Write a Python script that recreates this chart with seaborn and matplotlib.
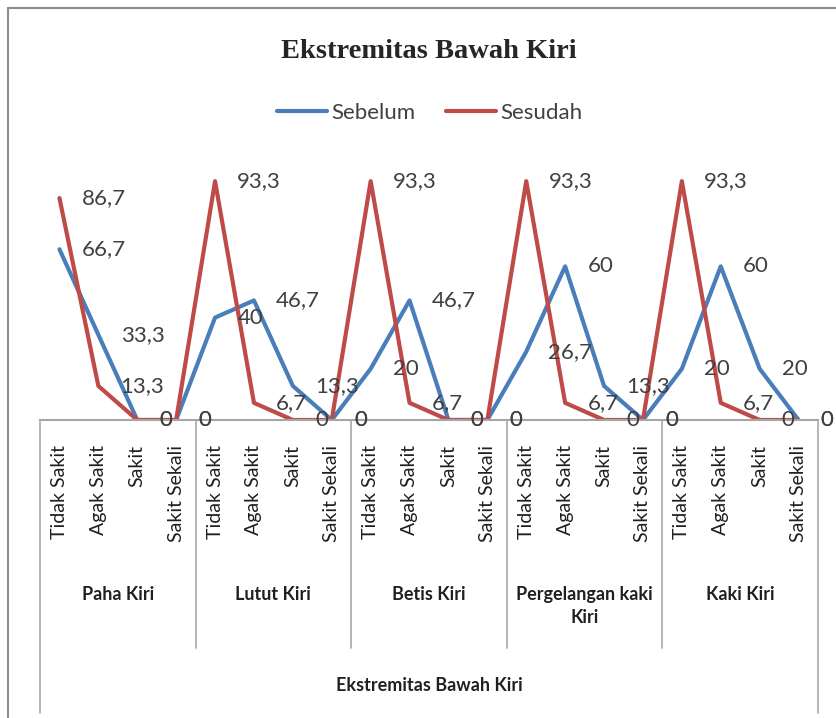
import numpy as np
import pandas as pd
import matplotlib.pyplot as plt
from matplotlib.lines import Line2D
import seaborn as sns

# Data
groups = ["Paha Kiri", "Lutut Kiri", "Betis Kiri", "Pergelangan kaki\nKiri", "Kaki Kiri"]
levels = ["Tidak Sakit", "Agak Sakit", "Sakit", "Sakit Sekali"]
sebelum = [66.7, 33.3, 0, 0,
           40, 46.7, 13.3, 0,
           20, 46.7, 0, 0,
           26.7, 60, 13.3, 0,
           20, 60, 20, 0]
sesudah = [86.7, 13.3, 0, 0,
           93.3, 6.7, 0, 0,
           93.3, 6.7, 0, 0,
           93.3, 6.7, 0, 0,
           93.3, 6.7, 0, 0]
series_names = ["Sebelum", "Sesudah"]
colors = {"Sebelum": "#4A7EBB", "Sesudah": "#BE4B48"}
title = "Ekstremitas Bawah Kiri"
axis_title = "Ekstremitas Bawah Kiri"

sns.set_theme(style="white")
plt.rcParams['font.family'] = ['Lato', 'DejaVu Sans']

categories = [lv for g in groups for lv in levels]
pos = np.arange(len(categories))
df = pd.DataFrame({
    "pos": np.concatenate([pos, pos]),
    "value": sebelum + sesudah,
    "series": [series_names[0]] * len(pos) + [series_names[1]] * len(pos),
})

W, H = 837, 718
fig = plt.figure(figsize=(W / 100, H / 100), dpi=100)
ax = fig.add_axes([40 / W, 1 - 420 / H, (818 - 40) / W, (420 - 164) / H])

sns.lineplot(data=df, x="pos", y="value", hue="series", hue_order=series_names,
             palette=colors, linewidth=3, sort=False, ax=ax)

ax.set_xlim(-0.5, len(categories) - 0.5)
ax.set_ylim(0, 100)
ax.set_xticks([])
ax.set_yticks([])
ax.set_xlabel("")
ax.set_ylabel("")
for side in ["left", "right", "top"]:
    ax.spines[side].set_visible(False)
ax.spines["bottom"].set_color("#A6A6A6")
ax.spines["bottom"].set_linewidth(1.5)

# data labels, to the right of each point
for name, vals in zip(series_names, [sebelum, sesudah]):
    for x, v in zip(pos, vals):
        ax.annotate(f"{v:g}".replace(".", ","), xy=(x, v), xytext=(16, 0),
                    textcoords="offset points", ha="left", va="center",
                    fontsize=16, color="#404040")

# multi-level category axis
xt = ax.get_xaxis_transform()
for x, lab in zip(pos, categories):
    ax.annotate(lab, xy=(x, 0), xycoords=xt, xytext=(0, -18), textcoords="offset points",
                rotation=90, ha="center", va="top", fontsize=14, color="#202020")
for gi, g in enumerate(groups):
    ax.annotate(g, xy=(gi * 4 + 1.5, 0), xycoords=xt, xytext=(0, -119.5),
                textcoords="offset points", ha="center", va="top", fontsize=13,
                fontweight="bold", color="#202020", linespacing=1.45)
ax.annotate(axis_title, xy=(9.5, 0), xycoords=xt, xytext=(0, -191.5),
            textcoords="offset points", ha="center", va="center", fontsize=13,
            fontweight="bold", color="#202020")

edges = np.arange(-0.5, len(categories), 4)
for e in edges:
    outer = e in (edges[0], edges[-1])
    depth = -(713 - 420) / 256 if outer else -(648 - 420) / 256
    ax.plot([e, e], [0, depth], transform=xt, clip_on=False, color="#B0B0B0", lw=1.3)

sns.move_legend(ax, "center", bbox_to_anchor=(0.501, 1.20), ncol=2, frameon=False,
                title=None, fontsize=16, handlelength=2.25, handletextpad=0.2,
                columnspacing=1.4)
for t in ax.get_legend().get_texts():
    t.set_color("#404040")

fig.text(429 / W, 1 - 51 / H, title, ha="center", va="center", fontsize=20.5,
         fontweight="bold", family=["Liberation Serif", "DejaVu Serif"])

# chart frame (left and top edges visible in the crop)
fig.add_artist(Line2D([8 / W, 8 / W], [0, 1 - 8 / H], transform=fig.transFigure,
                      color="#8C8C8C", lw=1.5))
fig.add_artist(Line2D([8 / W, 1], [1 - 8 / H, 1 - 8 / H], transform=fig.transFigure,
                      color="#8C8C8C", lw=1.5))

fig.savefig("out.png", dpi=100)
